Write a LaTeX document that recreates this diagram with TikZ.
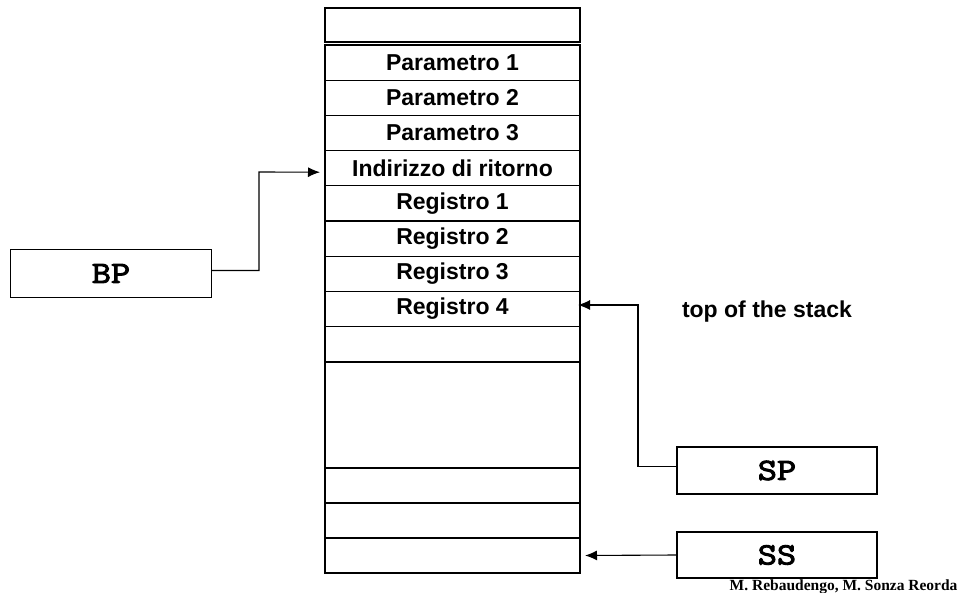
\documentclass[tikz,border=0pt]{standalone}
\usepackage{fontspec}
\setmainfont{Liberation Sans}
\newfontfamily\serf{Liberation Serif}
\newfontfamily\monof[FakeBold=3,FakeStretch=1.18]{lmmono10-regular.otf}
\usetikzlibrary{arrows.meta}
\begin{document}
\begin{tikzpicture}[x=1pt,y=-1pt,
  cell/.style={draw=black,line width=1.3pt,minimum width=255pt,inner sep=0pt,outer sep=0pt,
    font=\fontsize{23}{27}\selectfont\bfseries},
  reg/.style={draw=black,line width=1.1pt,minimum width=201pt,minimum height=48pt,inner sep=0pt,
    font=\monof\fontsize{31}{34}\selectfont},
  arr/.style={line width=1.1pt,-{Latex[length=12pt,width=10pt]}},
  lbl/.style={font=\fontsize{23}{27}\selectfont\bfseries}]
\useasboundingbox (0,0) rectangle (969,593);
\fill[white] (0,0) rectangle (969,593);
% stack cells
\node[cell,minimum height=34pt] (r0) at (452.5,25) {};
\node[cell,minimum height=35.2pt] (p1) at (452.5,62.6) {Parametro 1};
\node[cell,minimum height=35.2pt] (p2) at (452.5,97.8) {Parametro 2};
\node[cell,minimum height=35.2pt] (p3) at (452.5,133.0) {Parametro 3};
\node[cell,minimum height=35.2pt] (ind) at (452.5,168.2) {Indirizzo di ritorno};
\node[cell,minimum height=35.2pt] (g1) at (452.5,203.4) {Registro 1};
\node[cell,minimum height=35.2pt] (g2) at (452.5,238.6) {Registro 2};
\node[cell,minimum height=35.2pt] (g3) at (452.5,273.8) {Registro 3};
\node[cell,minimum height=35.2pt] (g4) at (452.5,309.0) {Registro 4};
\node[cell,minimum height=35.4pt] (e1) at (452.5,344.3) {};
\node[cell,minimum height=106pt] (e2) at (452.5,415.0) {};
\node[cell,minimum height=35pt] (e3) at (452.5,485.5) {};
\node[cell,minimum height=35pt] (e4) at (452.5,520.5) {};
\node[cell,minimum height=35pt] (e5) at (452.5,555.5) {};
% registers
\node[reg] (bp) at (111,273.5) {BP};
\node[reg,minimum width=200pt,minimum height=47pt] (sp) at (777,470.5) {SP};
\node[reg,minimum width=200pt,minimum height=46pt] (ss) at (777,555) {SS};
% labels
\node[lbl,anchor=base] (tos) at (767,318) {top of the stack};
\node[font=\serf\fontsize{15.5}{18}\selectfont\bfseries,anchor=base east] (auth) at (961,590) {M. Rebaudengo, M. Sonza Reorda};
% connectors
\draw[arr] ([yshift=3pt]bp.east) -| (259,172) -- ([xshift=-5pt,yshift=-4pt]ind.west);
\draw[arr] ([yshift=4pt]sp.west) -| (638,305) -- ([xshift=-2pt,yshift=4pt]g4.east);
\draw[arr] (ss.west) -- ([xshift=5pt]e5.east);
\end{tikzpicture}
\end{document}
